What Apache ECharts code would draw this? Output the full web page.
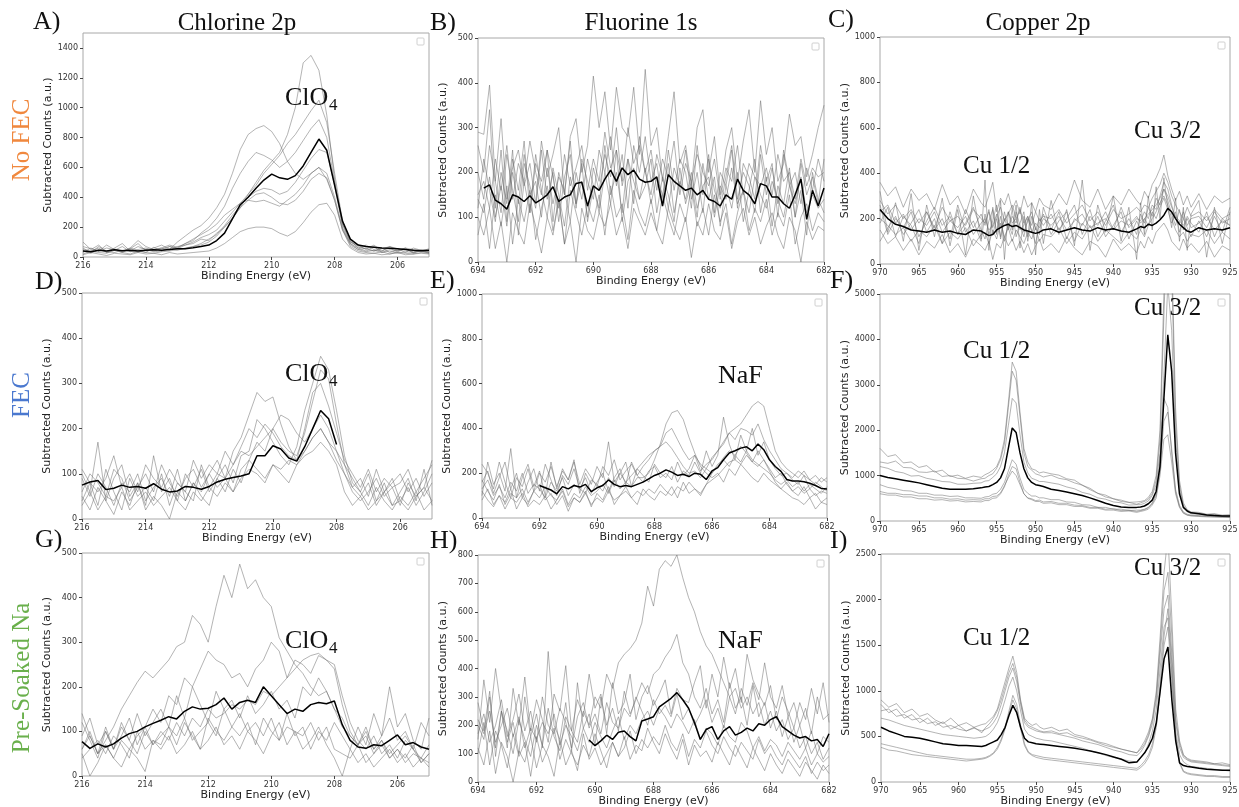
<!DOCTYPE html>
<html>
<head>
<meta charset="utf-8">
<title>XPS spectra</title>
<script src="https://cdn.jsdelivr.net/npm/echarts@6.0.0/dist/echarts.min.js"></script>
<style>
  html, body { margin: 0; padding: 0; background: #fff; }
  #chart { width: 1239px; height: 807px; }
</style>
</head>
<body>
<div id="chart"></div>
<script>
// binding energy grids (eV)
const clEnergy = [216,215.75,215.5,215.25,215,214.75,214.5,214.25,214,213.75,213.5,213.25,213,212.75,212.5,212.25,212,211.75,211.5,211.25,211,210.75,210.5,210.25,210,209.75,209.5,209.25,209,208.75,208.5,208.25,208,207.75,207.5,207.25,207,206.75,206.5,206.25,206,205.75,205.5,205.25,205];
const fEnergy = [694,693.8,693.6,693.4,693.2,693,692.8,692.6,692.4,692.2,692,691.8,691.6,691.4,691.2,691,690.8,690.6,690.4,690.2,690,689.8,689.6,689.4,689.2,689,688.8,688.6,688.4,688.2,688,687.8,687.6,687.4,687.2,687,686.8,686.6,686.4,686.2,686,685.8,685.6,685.4,685.2,685,684.8,684.6,684.4,684.2,684,683.8,683.6,683.4,683.2,683,682.8,682.6,682.4,682.2,682];
const cuEnergy = [970,969,968,967,966,965,964,963,962,961,960,959,958,957,956.5,956,955.5,955,954.5,954,953.5,953,952.5,952,951.5,951,950.5,950,949.5,949,948,947,946,945,944,943,942,941,940,939,938,937,936.5,936,935.5,935,934.5,934,933.5,933,932.5,932,931.5,931,930.5,930,929,928,927,926,925];

// tick labels
const clTicks = [216,214,212,210,208,206];
const fTicks = [694,692,690,688,686,684,682];
const cuTicks = [970,965,960,955,950,945,940,935,930,925];
const yTicks1400 = [0,200,400,600,800,1000,1200,1400];
const yTicks500 = [0,100,200,300,400,500];
const yTicks1000 = [0,200,400,600,800,1000];
const yTicks5000 = [0,1000,2000,3000,4000,5000];
const yTicks800 = [0,100,200,300,400,500,600,700,800];
const yTicks2500 = [0,500,1000,1500,2000,2500];

// A) Chlorine 2p, No FEC
const meanA = [40,35,45,40,48,42,45,40,45,48,45,50,55,55,62,70,80,110,160,255,350,400,460,515,555,530,520,545,610,700,790,715,480,240,120,80,70,65,60,58,55,50,45,42,45];
const grayA = [
  [60,30,70,40,55,35,60,45,30,65,40,70,55,80,90,120,110,160,200,260,330,420,500,580,640,700,820,1000,1300,1350,1250,950,520,220,100,70,55,80,40,60,35,55,30,50,40],
  [100,50,80,30,60,90,40,70,50,60,80,50,100,140,180,210,260,330,420,560,720,820,860,880,840,760,640,560,520,560,600,520,380,180,90,60,80,50,40,70,55,30,60,45,35],
  [30,60,40,80,50,30,55,90,40,50,60,45,70,80,100,130,150,180,240,300,360,420,480,560,620,680,760,820,900,980,1050,900,560,240,110,60,40,70,30,50,40,60,25,45,30],
  [50,40,60,30,45,70,35,50,60,40,55,70,60,90,110,160,200,260,340,460,560,640,700,680,650,600,640,700,780,860,920,800,500,220,100,80,50,40,60,30,45,50,35,40,30],
  [40,25,50,35,30,45,40,30,50,35,40,55,45,60,70,90,120,150,210,280,340,400,440,460,450,420,440,500,580,660,720,700,480,200,90,50,35,45,30,40,25,35,30,40,25],
  [20,40,30,25,45,30,20,40,30,25,35,40,50,55,70,80,100,140,200,260,330,380,420,430,400,360,350,380,440,520,560,530,380,180,70,40,30,25,35,20,30,25,20,30,25],
  [15,30,20,10,25,20,15,30,20,25,15,30,20,25,30,35,40,60,90,130,170,190,200,200,190,160,140,170,230,300,350,360,280,120,60,30,20,25,15,20,30,15,20,25,20],
  [70,55,40,60,50,40,60,110,70,50,60,80,65,90,120,150,180,220,280,320,360,380,370,380,360,340,380,420,480,560,600,560,400,190,80,50,60,40,55,70,45,60,50,40,55]
];

// B) Fluorine 1s, No FEC
const meanB = [null,165,172,138,130,118,150,145,135,148,132,140,150,168,135,145,150,175,178,125,170,160,185,205,180,210,195,205,185,178,180,190,125,195,180,170,160,165,150,160,140,135,125,150,140,185,160,150,130,175,170,145,145,130,120,150,185,95,160,125,165];
const grayB = [
  [290,285,395,180,320,140,210,250,170,220,130,270,190,240,300,150,280,320,200,260,415,300,380,250,390,300,280,390,240,430,260,300,180,280,380,220,260,170,300,340,200,280,150,250,300,180,270,340,200,360,240,300,180,220,330,260,280,190,240,300,350],
  [260,200,340,120,250,90,230,160,270,110,220,180,250,90,200,150,270,120,230,180,140,250,200,280,170,240,120,260,200,280,180,220,130,250,160,230,200,120,260,150,240,110,200,170,250,120,220,190,140,260,180,220,100,240,170,200,130,210,160,230,180],
  [60,130,30,150,80,170,40,140,90,160,50,120,170,70,140,40,160,110,60,130,90,150,60,170,100,130,50,160,110,80,140,70,150,100,60,130,90,170,80,120,60,150,90,130,40,110,160,70,120,90,140,60,110,80,150,40,100,130,70,110,90],
  [140,110,190,100,170,80,200,130,240,150,180,100,210,130,190,160,90,200,140,230,170,120,260,150,200,110,230,180,140,210,130,190,150,220,110,180,140,200,120,170,190,100,170,140,210,130,160,110,190,150,120,180,140,100,170,130,190,110,150,120,140],
  [100,60,120,30,90,0,110,70,40,130,80,20,100,60,140,40,90,0,120,70,50,110,80,130,60,100,30,120,90,60,110,70,40,120,80,50,100,10,90,60,130,70,50,110,30,90,120,60,100,40,80,110,60,30,100,70,0,90,50,80,70],
  [150,180,120,230,160,260,140,220,180,270,200,150,250,190,120,240,170,210,260,160,230,180,290,210,250,180,300,220,260,200,250,160,230,190,270,150,220,180,240,200,170,230,140,210,180,260,150,220,190,170,210,150,240,180,200,140,230,170,210,190,200],
  [200,140,260,180,110,240,160,90,220,170,120,250,140,200,90,190,240,130,180,100,210,160,240,190,300,170,230,130,280,200,150,240,190,120,210,170,250,140,200,110,230,160,120,190,260,140,200,170,110,240,150,210,130,250,180,100,220,150,190,130,230],
  [120,230,160,90,200,130,250,60,180,110,240,160,100,210,150,80,190,130,220,90,170,110,200,130,250,90,180,210,140,170,230,110,190,150,90,210,130,180,100,220,140,190,80,170,120,200,90,160,230,110,190,80,170,130,210,100,160,60,200,140,110]
];

// C) Copper 2p, No FEC
const meanC = [240,200,175,165,150,145,140,150,140,145,135,130,150,145,135,125,130,150,160,170,175,165,170,160,150,145,140,135,140,150,155,140,150,160,150,145,160,150,155,145,140,155,165,160,175,170,180,195,215,245,230,200,175,160,145,140,160,150,155,150,160];
const grayC = [
  [360,300,340,250,330,280,310,240,350,260,300,220,330,270,250,300,360,230,290,260,310,240,280,220,300,250,270,230,290,260,240,310,260,370,280,250,330,240,300,260,330,280,260,320,290,350,380,420,480,390,330,280,320,260,300,250,310,240,300,270,290],
  [230,260,180,220,150,200,170,230,140,190,160,210,130,180,200,150,170,220,160,190,230,180,200,150,170,210,140,180,160,200,170,210,150,190,220,160,180,200,150,190,170,210,180,200,220,240,260,290,330,300,250,210,190,170,200,160,180,210,150,190,170],
  [150,90,120,60,110,40,100,70,130,50,90,30,110,80,60,100,20,90,70,120,80,110,60,100,50,90,40,80,110,60,90,50,120,70,40,100,80,30,110,60,90,50,100,70,120,90,140,160,180,150,100,80,60,110,70,90,50,100,30,80,60],
  [280,220,260,200,240,180,230,160,250,190,210,170,240,200,180,230,160,210,250,190,220,260,200,240,180,210,170,230,190,210,200,240,180,220,260,190,230,170,240,200,220,250,230,260,250,290,320,350,400,360,300,260,230,200,250,210,230,190,240,200,220],
  [200,170,130,160,100,150,120,170,90,140,110,160,80,130,140,90,150,110,180,120,160,100,150,120,90,140,110,160,100,130,120,160,90,140,110,170,100,150,120,90,140,110,150,120,170,200,230,270,300,260,200,150,120,140,100,130,120,150,90,140,110],
  [320,140,270,100,310,60,260,120,290,80,240,40,300,110,370,60,250,130,280,20,230,150,260,70,210,120,270,40,240,90,280,130,240,80,370,60,260,140,300,100,250,20,270,130,300,150,340,200,380,250,160,290,100,250,60,220,280,30,250,90,230],
  [180,250,120,210,170,90,230,150,200,110,260,140,190,100,220,130,190,260,110,200,150,240,120,180,230,100,210,160,130,250,150,230,110,200,170,240,120,190,260,140,200,130,220,180,250,210,290,260,330,280,220,170,240,150,210,180,140,230,120,200,170],
  [100,160,210,130,180,240,140,200,90,230,130,180,250,150,110,190,240,140,210,100,180,130,230,170,120,200,150,90,180,220,130,190,230,100,180,140,210,120,170,230,110,190,150,200,170,230,200,250,290,240,180,230,140,200,160,120,190,120,210,140,250],
  [260,130,200,160,230,120,190,250,170,210,130,240,160,220,170,240,130,200,120,230,160,210,180,250,140,190,230,150,200,170,220,150,200,260,130,210,170,230,150,250,160,200,190,230,200,260,240,300,360,330,260,200,180,230,170,200,210,160,230,180,200]
];

// D) Chlorine 2p, FEC
const meanD = [75,82,85,65,68,75,70,72,68,78,66,60,62,72,70,66,72,82,88,92,95,100,140,140,162,155,135,128,160,200,240,222,165,null,null,null,null,null,null,null,null,null,null,null,null];
const grayD = [
  [100,60,170,40,90,120,50,80,30,140,60,90,40,100,70,110,60,90,120,80,140,150,220,200,170,140,120,160,240,300,360,330,240,140,80,60,100,40,80,30,60,90,40,110,30],
  [40,80,30,110,60,20,90,50,70,40,100,30,80,60,40,120,70,100,90,150,180,230,280,260,270,210,160,130,150,180,200,170,130,100,70,50,80,30,60,90,40,70,30,60,100],
  [90,50,100,70,30,80,60,100,40,70,90,50,110,40,80,60,100,70,90,60,110,130,170,150,200,170,150,140,190,260,330,310,210,120,70,90,50,110,60,80,100,60,90,50,80],
  [50,20,70,40,10,60,30,80,20,50,30,0,60,40,80,50,30,90,60,110,80,130,110,90,120,100,80,120,150,180,200,170,150,120,90,60,30,70,40,20,50,30,60,20,40],
  [110,80,60,90,140,70,100,60,120,90,70,110,80,60,130,90,120,100,150,120,160,200,180,210,190,160,140,130,200,280,300,250,190,130,100,70,110,60,90,70,80,110,60,90,120],
  [60,100,80,50,110,90,40,70,100,60,120,80,50,90,110,70,100,130,90,120,150,140,160,180,200,230,220,190,170,200,230,200,150,100,60,40,60,90,50,70,30,80,50,70,40],
  [30,60,20,50,40,70,20,40,60,30,50,70,40,20,60,40,70,50,80,60,90,110,100,80,120,110,130,120,140,150,170,150,120,60,30,50,20,40,60,30,40,20,50,70,130]
];

// E) Fluorine 1s, FEC
const meanE = [null,null,null,null,null,null,null,null,null,null,145,135,125,108,140,130,145,138,150,118,135,145,170,150,140,145,140,150,160,175,190,200,215,205,190,195,185,200,195,172,210,225,260,290,300,312,318,300,330,305,260,230,208,172,165,165,162,155,145,132,130];
const grayE = [
  [170,120,80,150,60,110,90,130,70,120,90,140,100,80,130,60,110,90,140,100,120,150,110,170,130,160,140,180,180,200,260,330,420,470,480,440,360,290,230,200,180,200,160,220,190,240,210,180,160,200,170,150,130,160,120,140,110,130,100,120,110],
  [240,200,130,250,160,90,180,140,220,120,200,160,230,140,210,170,250,150,220,180,140,230,190,260,170,210,240,190,230,260,300,320,380,400,350,300,260,280,240,220,270,300,340,380,400,420,460,500,520,500,400,300,250,220,200,180,210,170,190,160,180],
  [80,130,60,100,40,90,70,110,50,80,60,100,40,80,120,50,90,70,110,60,90,70,120,80,100,140,90,120,100,130,110,150,120,100,140,120,160,130,110,150,170,190,220,250,260,240,280,250,230,260,210,160,130,110,90,80,60,90,40,70,60],
  [160,210,110,180,250,130,200,90,160,220,120,240,170,100,190,150,220,130,180,110,160,200,120,180,220,150,250,190,160,210,230,180,200,170,250,190,220,280,210,240,260,300,330,380,350,400,390,370,420,350,300,260,220,200,180,210,190,170,150,180,160],
  [120,80,50,100,70,130,40,90,60,120,150,80,110,60,100,30,90,70,120,50,110,80,140,60,100,120,90,60,130,100,80,120,100,140,90,160,110,130,100,150,200,230,270,300,280,320,290,250,300,260,220,180,200,150,120,100,140,90,110,70,90],
  [100,250,150,200,120,310,90,180,240,140,210,100,250,130,220,170,260,110,200,150,230,180,340,160,200,250,140,220,190,160,240,200,180,230,160,210,190,250,200,300,230,280,450,330,260,370,300,400,280,340,260,220,190,200,170,150,190,130,160,140,120],
  [130,170,100,140,90,160,120,200,110,150,130,90,160,120,180,100,150,130,110,170,150,120,180,140,200,160,190,220,250,280,300,320,340,310,270,230,200,210,180,220,200,240,260,230,280,250,300,260,240,220,200,170,150,170,140,160,120,150,130,110,140]
];

// F) Copper 2p, FEC
const meanF = [1000,960,930,900,870,840,800,760,720,700,700,700,710,730,750,760,800,850,950,1150,1600,2050,1950,1500,1150,950,850,800,780,760,700,670,640,600,560,510,450,390,340,310,300,300,310,330,380,460,650,1200,2700,4100,3300,1500,600,300,220,180,160,130,120,110,110];
const grayF = [
  [1600,1420,1460,1280,1300,1180,1220,1080,1120,980,1010,940,990,960,1020,1060,1120,1200,1400,1800,2600,3500,3300,2400,1600,1300,1150,1120,1060,1080,1040,1010,930,900,790,720,610,570,490,460,410,420,430,450,520,650,1000,2000,5000,8000,6000,2500,900,400,250,200,190,150,160,130,140],
  [1300,1270,1320,1180,1170,1080,1070,1100,980,1000,940,930,880,930,940,1000,1040,1160,1350,1700,2500,3300,3100,2300,1500,1200,1120,1040,1010,970,1010,940,910,840,790,690,610,530,490,430,410,370,400,430,480,600,900,1800,4500,7000,5500,2200,800,350,220,180,170,140,150,110,120],
  [1200,1160,1090,1060,990,1000,940,910,870,860,810,810,830,840,880,890,960,1040,1200,1500,2100,2700,2600,1900,1300,1060,940,910,870,870,840,810,750,710,630,590,510,480,420,400,350,360,360,390,440,560,800,1500,3200,5200,4200,1800,700,320,200,160,150,130,120,110,100],
  [800,740,710,670,660,610,610,570,570,540,550,510,510,500,530,540,590,610,700,850,1100,1350,1250,950,700,610,550,550,510,510,470,470,420,410,360,350,300,300,260,260,230,240,240,260,300,400,600,1300,2700,2500,1500,700,350,200,150,130,120,110,100,100,90],
  [600,570,570,530,530,490,490,460,470,440,450,420,430,420,450,450,500,510,600,750,1000,1200,1150,850,600,500,470,430,430,390,400,360,360,320,320,280,280,240,240,210,220,190,210,230,260,350,500,1000,1800,1900,1300,600,300,170,130,110,100,90,90,80,80],
  [650,610,610,580,580,550,550,510,510,480,490,460,470,460,490,490,540,550,620,780,950,1100,1000,800,600,510,490,450,460,420,430,390,390,350,340,300,300,260,270,230,240,210,230,250,290,380,550,1100,2200,2400,1600,650,320,180,130,120,110,100,90,90,80]
];

// G) Chlorine 2p, Pre-Soaked Na
const meanG = [77,62,72,65,72,85,95,100,110,118,125,133,128,145,155,150,152,160,175,150,165,170,165,200,180,160,140,150,145,160,165,162,168,115,80,65,62,70,68,80,92,70,75,65,60];
const grayG = [
  [60,100,50,80,110,150,180,210,235,220,240,260,290,300,360,340,300,380,450,400,475,420,440,400,380,310,280,250,230,200,180,190,150,110,90,70,100,60,80,50,70,90,60,40,70],
  [120,80,40,100,60,90,130,70,110,150,120,180,160,220,200,240,280,260,250,220,230,200,240,260,300,280,220,260,250,230,270,260,240,160,100,70,90,50,80,40,60,30,50,40,20],
  [60,90,50,70,40,80,60,90,110,70,100,80,120,90,130,110,150,130,140,160,150,170,160,190,180,200,220,240,260,270,275,260,250,180,120,80,60,90,50,70,40,80,60,30,50],
  [140,90,50,110,60,120,80,50,100,70,90,110,70,120,90,60,130,100,80,110,90,120,70,130,100,80,140,90,110,60,100,80,120,90,60,110,70,140,90,200,110,140,80,60,130],
  [50,0,30,70,40,20,60,40,10,80,60,90,50,70,100,60,80,110,70,90,60,100,80,50,90,120,70,100,60,80,110,70,40,0,60,30,50,20,40,60,30,50,20,40,30],
  [90,130,70,100,60,110,80,140,90,120,150,110,180,130,200,160,120,190,150,170,130,180,140,160,190,150,170,130,200,180,220,190,150,130,90,70,110,60,90,130,80,100,60,120,90],
  [40,60,80,50,90,70,40,100,60,80,70,110,90,130,80,100,120,90,150,110,140,100,120,90,130,80,110,100,90,120,80,110,60,50,40,70,30,50,70,40,60,40,70,30,50]
];

// H) Fluorine 1s, Pre-Soaked Na
const meanH = [null,null,null,null,null,null,null,null,null,null,null,null,null,null,null,null,null,null,null,148,128,145,165,150,175,180,160,145,215,222,230,265,280,295,315,290,260,210,150,185,195,150,180,195,165,175,190,180,205,200,220,230,195,180,165,155,160,145,150,125,170];
const grayH = [
  [200,150,300,120,250,180,100,220,150,90,200,130,260,160,110,230,180,140,250,200,300,260,380,330,420,450,470,500,560,690,620,750,780,760,800,720,650,600,530,480,450,400,350,300,330,260,300,240,280,200,250,180,220,150,190,120,160,100,140,80,120],
  [280,180,320,90,250,140,210,100,300,160,240,120,460,200,150,280,110,350,190,240,130,300,200,260,180,320,240,290,350,310,380,400,440,470,520,420,380,300,260,330,240,290,210,350,260,300,200,340,230,280,190,250,160,230,140,200,120,180,100,160,140],
  [150,360,210,400,250,120,330,200,370,180,290,220,140,310,250,410,180,290,230,380,260,310,170,350,240,280,380,220,300,340,270,310,360,240,330,290,280,350,410,260,380,300,440,330,400,280,450,360,310,270,340,220,300,250,190,280,220,330,240,350,210],
  [120,60,180,30,140,90,0,110,70,160,50,130,90,20,150,60,110,40,170,80,120,60,100,140,90,160,80,130,110,190,140,100,170,120,80,150,60,130,90,110,70,140,100,60,130,90,50,120,80,40,100,60,30,80,50,20,70,40,10,60,30],
  [220,170,250,140,200,260,160,230,120,190,150,210,170,240,130,200,160,110,190,140,210,160,120,180,230,150,200,170,220,250,200,260,230,190,240,210,170,220,150,190,170,130,200,160,140,210,180,120,160,110,150,130,90,140,110,80,120,60,100,70,90],
  [100,210,60,180,130,50,170,90,140,20,160,70,120,190,80,150,100,60,130,90,170,110,50,140,90,120,180,100,150,120,160,130,200,140,110,170,90,150,120,180,130,100,160,120,90,140,110,80,150,100,130,90,60,110,80,50,90,30,70,40,60],
  [170,240,140,200,290,160,220,310,180,250,140,300,200,170,260,210,120,230,280,190,240,170,280,210,190,260,230,300,250,200,290,240,270,230,310,220,260,200,240,290,210,260,190,300,240,330,270,350,290,420,300,260,340,230,280,200,260,170,300,220,240]
];

// I) Copper 2p, Pre-Soaked Na
const meanI = [600,560,530,500,490,480,460,440,420,410,400,400,395,390,400,420,440,460,520,600,730,840,760,600,480,440,430,420,415,410,400,390,380,370,355,340,320,300,275,250,210,220,270,320,390,480,650,1000,1350,1480,900,450,210,180,170,165,150,140,135,130,128];
const grayI = [
  [900,820,860,760,800,720,750,680,640,700,620,650,600,630,640,680,720,800,950,1100,1250,1380,1200,900,700,650,620,640,600,580,600,560,580,520,500,470,440,420,390,360,340,320,380,450,550,700,1000,1600,2300,2700,1800,800,450,300,260,240,230,220,200,210,190],
  [780,800,720,740,680,700,640,660,600,620,580,560,590,560,580,600,650,720,850,1000,1150,1250,1100,850,650,600,580,560,550,540,540,520,500,480,450,430,410,380,350,330,300,290,330,400,500,640,900,1400,1900,2050,1400,650,380,270,240,220,210,200,190,180,170],
  [700,680,650,620,600,580,560,540,520,510,500,490,480,490,500,530,580,650,760,900,1050,1150,1000,780,580,520,500,480,470,460,450,430,410,390,370,340,320,290,270,250,230,220,260,320,420,560,800,1250,1700,1800,1200,550,300,220,190,170,160,150,140,130,120],
  [420,400,380,360,340,320,300,290,280,270,260,250,250,260,270,290,320,380,470,600,780,950,850,620,420,330,300,290,280,270,260,250,240,230,220,210,200,190,180,170,160,150,180,230,300,420,650,1100,1600,1900,1300,500,220,120,100,90,80,70,70,60,60],
  [380,350,340,320,300,290,280,270,260,250,240,230,240,250,260,280,310,360,450,580,750,900,800,580,400,320,290,270,260,250,240,230,220,210,200,190,180,170,160,150,140,130,160,200,270,380,600,1000,1500,1700,1100,450,200,110,90,80,70,60,60,50,50],
  [850,760,800,700,740,650,700,620,660,580,620,560,600,540,600,640,700,780,900,1050,1200,1300,1150,880,680,620,600,580,560,550,560,530,540,500,480,460,430,400,380,360,340,320,360,420,520,680,950,1500,2100,2300,1600,700,420,290,250,230,220,210,200,190,180]
];

const panels = [
  { box: [83, 33, 346, 224],  xr: [205, 216], yr: [0, 1500], xs: clEnergy, xt: clTicks, yt: yTicks1400, grays: grayA, mean: meanA },
  { box: [478, 38, 346, 224], xr: [682, 694], yr: [0, 500],  xs: fEnergy,  xt: fTicks,  yt: yTicks500,  grays: grayB, mean: meanB },
  { box: [880, 37, 350, 227], xr: [925, 970], yr: [0, 1000], xs: cuEnergy, xt: cuTicks, yt: yTicks1000, grays: grayC, mean: meanC },
  { box: [82, 293, 350, 226], xr: [205, 216], yr: [0, 500],  xs: clEnergy, xt: clTicks, yt: yTicks500,  grays: grayD, mean: meanD },
  { box: [482, 294, 345, 224],xr: [682, 694], yr: [0, 1000], xs: fEnergy,  xt: fTicks,  yt: yTicks1000, grays: grayE, mean: meanE },
  { box: [880, 294, 350, 227],xr: [925, 970], yr: [0, 5000], xs: cuEnergy, xt: cuTicks, yt: yTicks5000, grays: grayF, mean: meanF },
  { box: [82, 553, 347, 223], xr: [205, 216], yr: [0, 500],  xs: clEnergy, xt: clTicks, yt: yTicks500,  grays: grayG, mean: meanG },
  { box: [478, 555, 351, 227],xr: [682, 694], yr: [0, 800],  xs: fEnergy,  xt: fTicks,  yt: yTicks800,  grays: grayH, mean: meanH },
  { box: [881, 554, 349, 228],xr: [925, 970], yr: [0, 2500], xs: cuEnergy, xt: cuTicks, yt: yTicks2500, grays: grayI, mean: meanI }
];

const tickFont = { fontSize: 8, color: '#333', fontFamily: 'DejaVu Sans', formatter: v => String(v) };
const nameFont = { fontSize: 11, color: '#222', fontFamily: 'DejaVu Sans' };
const serif = '"Liberation Serif", "Times New Roman", serif';

const grids = [], xAxes = [], yAxes = [], series = [], graphics = [];

panels.forEach((p, i) => {
  grids.push({
    left: p.box[0], top: p.box[1], width: p.box[2], height: p.box[3],
    show: true, borderColor: '#a8a8a8', borderWidth: 1, outerBoundsMode: 'none'
  });
  xAxes.push({
    gridIndex: i, type: 'value', inverse: true, min: p.xr[0], max: p.xr[1],
    axisLine: { show: false }, splitLine: { show: false },
    axisTick: { show: true, customValues: p.xt, length: 3, lineStyle: { color: '#444' } },
    axisLabel: Object.assign({ customValues: p.xt, margin: 5 }, tickFont),
    name: 'Binding Energy (eV)', nameLocation: 'middle', nameGap: 14,
    nameMoveOverlap: false, nameTextStyle: nameFont
  });
  yAxes.push({
    gridIndex: i, type: 'value', min: p.yr[0], max: p.yr[1],
    axisLine: { show: false }, splitLine: { show: false },
    axisTick: { show: true, customValues: p.yt, length: 3, lineStyle: { color: '#444' } },
    axisLabel: Object.assign({ customValues: p.yt, margin: 5 }, tickFont),
    name: 'Subtracted Counts (a.u.)', nameLocation: 'middle', nameGap: 29,
    nameMoveOverlap: false, nameTextStyle: nameFont
  });
  p.grays.forEach(ys => {
    series.push({
      type: 'line', xAxisIndex: i, yAxisIndex: i, symbol: 'none', silent: true,
      animation: false, clip: true,
      lineStyle: { color: 'rgba(105,105,105,0.5)', width: 1 },
      data: p.xs.map((x, k) => [x, ys[k]])
    });
  });
  series.push({
    type: 'line', xAxisIndex: i, yAxisIndex: i, symbol: 'none', silent: true,
    animation: false, clip: true, z: 3,
    lineStyle: { color: '#000', width: 1.5 },
    data: p.xs.map((x, k) => [x, p.mean[k]])
  });
  // empty legend box, top right
  graphics.push({
    type: 'rect', shape: { x: p.box[0] + p.box[2] - 12, y: p.box[1] + 5, width: 7, height: 7, r: 1 },
    style: { fill: '#fff', stroke: '#d0d0d0', lineWidth: 1 }
  });
});

function txt(s, x, y, size, opts) {
  return Object.assign({
    type: 'text', x: x, y: y, z: 10,
    style: { text: s, font: size + 'px ' + serif, fill: '#111', align: 'left', verticalAlign: 'middle' }
  }, opts || {});
}

// column titles
[['Chlorine 2p', 237], ['Fluorine 1s', 641], ['Copper 2p', 1038]].forEach(t => {
  const g = txt(t[0], t[1], 23, 25);
  g.style.align = 'center';
  graphics.push(g);
});

// panel letters
[['A)', 33, 22], ['B)', 430, 23], ['C)', 828, 20],
 ['D)', 35, 282], ['E)', 430, 281], ['F)', 830, 281],
 ['G)', 35, 540], ['H)', 430, 541], ['I)', 830, 541]].forEach(t => graphics.push(txt(t[0], t[1], t[2], 26)));

// row labels
[['No FEC', '#F0883E', 140], ['FEC', '#4A78CF', 395], ['Pre-Soaked Na', '#6AB04C', 678]].forEach(t => {
  const g = txt(t[0], 22, t[2], 25, { rotation: Math.PI / 2 });
  g.style.align = 'center';
  g.style.fill = t[1];
  graphics.push(g);
});

// peak annotations
[98, 374, 641].forEach(y => {
  graphics.push(txt('ClO', 285, y, 26));
  graphics.push(txt('4', 329, y + 8, 17));
});
graphics.push(txt('NaF', 718, 376, 26));
graphics.push(txt('NaF', 718, 641, 26));
[[166, 131], [351, 308], [638, 568]].forEach(r => {
  graphics.push(txt('Cu 1/2', 963, r[0], 25));
  graphics.push(txt('Cu 3/2', 1134, r[1], 25));
});

const chart = echarts.init(document.getElementById('chart'), null, { renderer: 'canvas' });
chart.setOption({
  backgroundColor: '#fff',
  animation: false,
  grid: grids,
  xAxis: xAxes,
  yAxis: yAxes,
  series: series,
  graphic: graphics
});
</script>
</body>
</html>
